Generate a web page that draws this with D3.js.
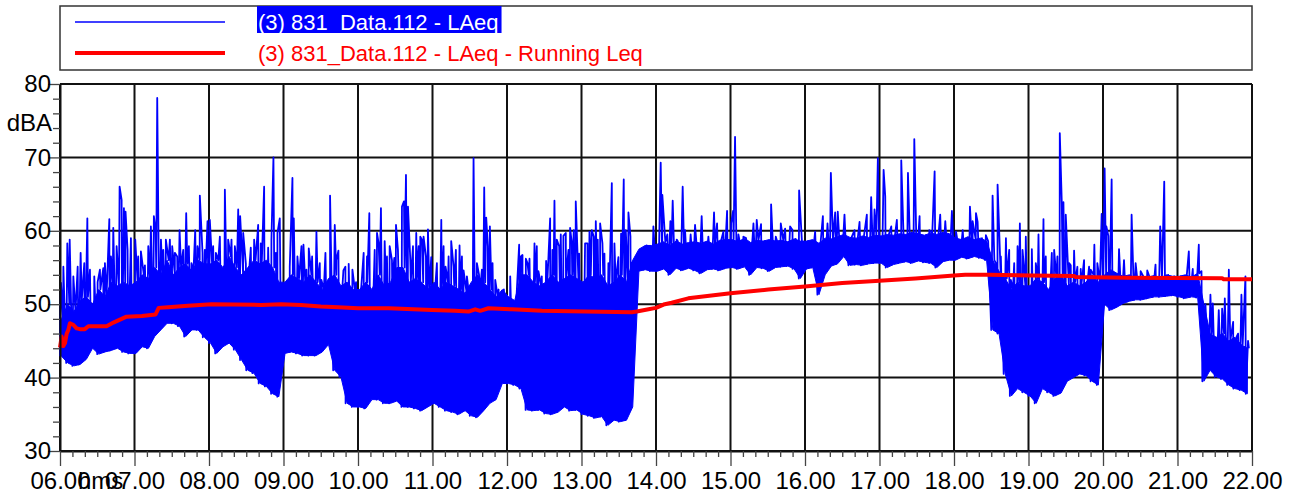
<!DOCTYPE html>
<html><head><meta charset="utf-8">
<script src="https://cdn.jsdelivr.net/npm/d3@7"></script>
<style>
html,body{margin:0;padding:0;background:#fff;}
svg{display:block;font-family:"Liberation Sans",Arial,Helvetica,sans-serif;}
</style></head><body>
<svg id="chart" width="1301" height="494"></svg>
<script>
// ---- data ----
const hourLabels = ["06.00","07.00","08.00","09.00","10.00","11.00","12.00","13.00","14.00","15.00","16.00","17.00","18.00","19.00","20.00","21.00","22.00"];
const yTickValues = [30,40,50,60,70,80];
const seriesNames = ["(3) 831_Data.112 - LAeq","(3) 831_Data.112 - LAeq - Running Leq"];
const xUnitLabel = "hms";
const yUnitLabel = "dBA";

// LAeq: lower and upper edge of the dense band, one pair per 5-minute bin (06:00 ... 21:55)
const bandLow = [
 42.9,42.0,41.6,41.8,42.5,44.0,43.2,43.5,43.7,44.0,43.5,43.3,
 43.3,44.2,44.0,45.6,46.5,47.4,47.4,47.0,45.6,46.5,46.5,45.5,
 44.7,43.3,44.2,44.7,43.8,42.4,41.0,40.6,39.2,38.8,37.8,37.4,
 43.3,43.5,43.3,43.0,43.0,43.0,43.5,44.5,41.0,40.1,36.5,36.0,
 36.0,35.8,37.0,37.0,36.5,36.5,36.8,36.0,36.0,35.8,35.5,36.0,
 36.5,36.0,35.5,35.3,35.0,35.5,34.8,34.6,35.5,36.5,37.0,39.2,
 39.2,39.0,38.5,35.6,35.5,35.6,35.1,35.0,35.3,36.0,35.5,35.6,
 35.0,34.8,34.5,34.7,33.5,34.2,34.0,34.2,36.0,54.5,54.7,54.5,
 54.5,54.8,54.0,54.9,54.6,54.9,54.6,54.2,54.7,54.8,54.6,54.9,
 55.0,54.8,55.1,54.0,55.0,54.9,54.5,55.0,55.1,55.2,54.8,53.5,
 54.8,55.0,51.3,54.0,55.2,55.5,56.5,55.3,55.4,55.3,55.5,55.6,
 55.6,55.0,55.4,55.6,55.8,55.6,55.9,55.7,55.6,55.0,55.8,56.0,
 56.0,56.4,56.2,56.5,56.3,56.0,46.5,46.0,40.5,37.5,38.5,38.0,
 37.5,36.5,38.5,38.0,37.5,37.9,39.5,40.0,40.5,40.3,39.5,39.0,
 50.0,49.2,49.6,50.1,50.4,50.6,50.6,50.8,51.0,51.0,51.1,51.2,
 51.0,50.8,51.0,50.9,39.5,41.0,40.1,39.8,39.0,38.5,38.3,37.8
];
const bandHigh = [
 48.0,50.0,49.0,50.5,51.0,50.0,52.0,51.0,53.0,52.5,53.0,52.5,
 53.0,54.0,53.5,55.0,54.0,56.0,54.0,55.0,55.5,54.5,56.0,55.5,
 55.5,56.0,55.0,56.5,55.0,54.0,55.0,56.0,55.5,56.0,55.0,53.0,
 53.0,54.0,53.5,53.0,54.0,53.0,52.0,53.5,54.0,52.5,53.0,52.0,
 52.0,53.0,52.0,54.0,52.5,53.0,55.0,55.0,53.0,53.5,53.0,52.0,
 53.0,52.0,53.0,52.5,52.0,51.5,53.0,54.0,53.0,52.0,51.0,52.0,
 51.0,50.5,54.0,54.0,53.0,52.5,53.0,54.0,53.0,53.5,54.0,53.5,
 53.0,54.0,53.5,54.0,52.5,53.0,54.0,53.0,56.0,57.5,58.0,58.0,
 58.2,58.5,58.0,58.6,58.2,58.4,58.5,58.3,58.6,58.2,58.7,58.8,
 58.8,58.5,59.0,58.4,58.7,58.6,58.8,58.6,58.7,58.5,58.9,58.6,
 58.6,58.8,58.3,59.0,58.9,59.2,59.5,59.1,59.0,59.3,59.1,59.4,
 59.3,59.5,59.4,59.6,59.5,59.8,59.6,59.4,59.7,59.5,59.8,59.6,
 59.0,58.8,59.2,58.8,59.0,58.6,56.0,54.5,53.5,52.0,53.0,52.5,
 52.5,53.5,53.0,52.0,53.5,54.0,52.5,53.0,52.5,53.0,54.0,53.0,
 54.0,54.7,54.2,53.8,54.0,53.6,53.8,53.7,53.9,53.6,54.0,53.8,
 53.8,54.0,53.7,54.2,50.0,46.0,45.5,46.0,45.0,45.5,44.5,44.0
];
// LAeq peaks: [time in hours, dBA]
const peaks = [
 [6.013,52.9],[6.098,58.3],[6.130,58.8],[6.237,55.1],[6.277,57.0],[6.367,61.7],[6.505,53.0],[6.581,54.9],
 [6.662,61.6],[6.715,60.4],[6.800,66.0],[6.827,64.2],[6.858,63.1],[6.880,62.6],[6.952,59.0],
 [7.010,58.8],[7.086,57.2],[7.140,55.3],[7.220,60.6],[7.260,62.0],[7.305,78.1],[7.355,58.8],[7.421,58.8],
 [7.475,58.8],[7.542,57.0],[7.605,60.1],[7.694,62.4],[7.765,55.6],[7.815,60.1],[7.877,64.8],[7.913,57.0],[7.980,61.3],
 [8.011,61.5],[8.092,57.0],[8.213,65.6],[8.257,58.8],[8.392,62.9],[8.418,62.0],[8.495,55.5],[8.561,57.7],
 [8.660,60.8],[8.740,66.0],[8.794,57.7],[8.865,70.0],[8.897,57.0],[8.950,61.7],
 [9.030,52.5],[9.120,67.2],[9.138,61.7],[9.268,58.1],[9.339,57.6],[9.442,59.9],[9.509,53.3],[9.625,64.8],
 [9.688,60.8],[9.737,57.3],[9.804,54.6],[9.875,55.5],[9.974,53.0],
 [10.076,57.0],[10.152,62.4],[10.255,59.7],[10.308,63.1],[10.358,58.6],[10.425,57.9],[10.510,60.8],[10.590,63.3],
 [10.617,64.0],[10.644,67.6],[10.671,63.3],[10.738,57.9],[10.782,59.7],[10.836,59.2],[10.880,59.2],[10.939,60.2],[10.983,56.4],
 [11.118,61.5],[11.175,55.1],[11.251,58.6],[11.283,55.1],[11.363,58.0],[11.417,54.6],[11.493,51.1],[11.551,69.9],
 [11.627,50.7],[11.694,65.9],[11.721,61.8],[11.770,60.6],[11.842,53.3],[11.887,52.0],
 [12.163,58.1],[12.208,56.7],[12.253,56.2],[12.302,56.2],[12.369,58.3],[12.422,54.5],[12.525,55.9],[12.579,61.7],
 [12.637,64.1],[12.668,58.8],[12.722,59.5],[12.789,59.7],[12.847,60.4],[12.896,60.1],[12.923,64.0],[12.968,56.9],
 [13.048,58.3],[13.107,59.9],[13.138,60.1],[13.192,61.3],[13.250,61.0],[13.308,56.9],[13.407,66.5],[13.495,56.4],
 [13.567,67.0],[13.630,62.5],[13.675,55.6],[13.965,60.6],
 [14.063,69.3],[14.085,64.9],[14.152,59.5],[14.193,61.3],[14.224,64.1],[14.278,58.8],[14.358,66.0],[14.390,60.1],
 [14.465,59.5],[14.524,60.8],[14.613,62.0],[14.703,59.2],[14.779,62.5],[14.820,61.0],[14.905,59.9],[14.954,62.7],
 [15.008,61.0],[15.035,62.7],[15.061,72.8],[15.106,59.5],[15.173,59.2],[15.308,61.0],[15.352,61.5],[15.410,60.9],
 [15.545,63.6],[15.608,59.2],[15.675,61.0],[15.733,60.3],[15.800,60.6],[15.832,60.1],[15.921,65.5],
 [16.136,59.9],[16.240,62.0],[16.302,61.0],[16.347,67.9],[16.405,62.5],[16.440,62.6],[16.530,62.2],[16.665,60.1],
 [16.732,61.2],[16.830,62.2],[16.888,64.6],[16.933,62.9],[16.978,69.9],
 [17.055,68.3],[17.077,64.7],[17.158,60.6],[17.233,61.5],[17.292,69.6],[17.382,67.9],[17.467,72.5],[17.538,62.0],
 [17.668,60.1],[17.740,68.1],[17.815,62.2],[17.883,61.3],[17.972,62.7],
 [18.027,59.9],[18.117,60.1],[18.214,63.3],[18.250,61.3],[18.295,62.4],[18.317,61.2],[18.428,59.4],[18.518,64.8],
 [18.585,66.3],[18.697,59.0],[18.763,53.3],[18.808,55.6],[18.884,61.0],[18.920,57.4],[18.964,59.2],
 [19.045,57.5],[19.134,59.5],[19.201,61.6],[19.313,57.0],[19.420,73.3],[19.447,63.8],[19.469,63.9],[19.500,62.2],
 [19.567,55.3],[19.612,57.3],[19.701,54.8],[19.813,55.1],[19.884,58.1],[19.982,62.3],
 [20.022,68.5],[20.045,60.6],[20.072,59.3],[20.116,67.0],[20.215,57.5],[20.282,56.0],[20.384,62.2],[20.438,55.6],
 [20.505,54.5],[20.594,54.6],[20.705,55.4],[20.768,60.6],[20.822,66.7],[20.929,53.7],
 [21.152,57.2],[21.205,54.8],[21.286,58.1],[21.322,54.5],[21.442,51.3],[21.474,50.1],[21.554,49.2],[21.599,49.4],
 [21.635,50.8],[21.689,54.7],[21.747,47.6],[21.813,46.0],[21.858,51.3],[21.912,53.8],[21.947,45.0]
];
// LAeq smaller peaks in the busy stretches: [time in hours, dBA]
const minorPeaks = [
 [6.045,55.1],[6.179,53.8],[6.326,55.6],[6.402,54.7],[6.460,53.8],[6.536,54.7],[6.603,55.6],[6.684,56.5],[6.760,57.9],[6.907,57.4],
 [7.050,56.5],[7.185,57.9],[7.283,60.1],[7.386,57.4],[7.506,57.9],[7.573,56.5],[7.654,57.4],[7.730,57.9],[7.846,57.9],[7.944,57.4],
 [8.056,57.9],[8.146,59.2],[8.302,58.8],[8.347,57.9],[8.459,59.7],[8.606,58.8],[8.695,58.3],[8.838,58.8],[8.919,59.7],
 [9.084,55.1],[9.187,56.5],[9.241,57.9],[9.308,54.7],[9.384,56.5],[9.487,55.6],[9.563,57.0],[9.710,56.0],[9.831,55.1],[9.925,54.7],
 [10.121,56.5],[10.224,57.4],[10.277,58.3],[10.389,56.5],[10.456,56.0],[10.487,56.3],[10.536,57.4],[10.702,56.0],[10.814,57.9],[10.858,58.8],[10.912,56.5],
 [11.059,55.6],[11.149,57.9],[11.216,56.5],[11.314,57.4],[11.395,56.5],[11.462,53.8],[11.596,55.6],[11.663,54.7],[11.743,57.9],[11.806,55.6],
 [12.043,53.8],[12.186,56.5],[12.275,55.6],[12.400,57.9],[12.467,53.8],[12.610,57.4],[12.700,57.9],[12.757,59.3],[12.825,57.4],[12.870,58.3],
 [13.080,58.3],[13.165,59.2],[13.218,58.8],[13.281,58.3],[13.361,55.6],[13.442,58.3],[13.531,59.6],[13.594,60.1],[13.657,59.2],
 [18.563,55.6],[18.629,56.5],[18.741,57.4],[18.853,57.9],
 [19.098,55.6],[19.232,56.5],[19.344,57.4],[19.388,56.5],[19.545,55.6],[19.656,55.1],[19.746,56.0],[19.835,54.7],[19.924,55.6]
];
// Running Leq: [time in hours, dBA]
const runningLeq = [
 [6.000,44.1],[6.022,45.6],[6.045,44.3],[6.067,44.7],[6.090,46.0],[6.112,46.5],[6.133,47.4],[6.178,47.2],
 [6.223,46.7],[6.267,46.6],[6.333,46.6],[6.380,47.0],[6.625,47.0],[6.717,47.5],[6.827,48.0],[6.893,48.3],
 [7.100,48.4],[7.283,48.6],[7.325,49.5],[7.450,49.6],[7.717,49.8],[8.033,50.0],[8.700,49.9],[8.967,50.0],
 [9.233,49.9],[9.500,49.7],[9.733,49.6],[10.000,49.45],[10.412,49.45],[10.992,49.2],[11.300,49.1],[11.483,49.0],
 [11.573,49.3],[11.640,49.1],[11.750,49.45],[12.067,49.3],[12.467,49.1],[13.050,49.0],[13.675,48.9],[13.742,49.0],
 [13.900,49.3],[14.000,49.5],[14.117,50.0],[14.210,50.2],[14.433,50.8],[15.000,51.5],[15.508,52.0],[16.000,52.4],
 [16.500,52.9],[17.000,53.2],[17.483,53.5],[18.000,53.9],[18.150,54.0],[18.475,54.0],[19.050,53.9],[19.612,53.85],
 [19.633,53.7],[20.327,53.6],[21.598,53.55],[21.620,53.4],[22.000,53.4]
];

// ---- drawing ----
const svg = d3.select("#chart");
const x = d3.scaleLinear().domain([6,22]).range([60,1252]);
const y = d3.scaleLinear().domain([30,80]).range([451,84]);
const hourVals = d3.range(6,23);
const FONT = 22, TICKFONT = 24;

// legend
const lg = svg.append("g");
lg.append("rect").attr("x",60).attr("y",6).attr("width",1192).attr("height",64)
  .attr("fill","#fff").attr("stroke","#333").attr("stroke-width",1.5);
lg.append("line").attr("x1",75).attr("x2",225).attr("y1",22).attr("y2",22).attr("stroke","#0000ff").attr("stroke-width",1.5);
lg.append("line").attr("x1",75).attr("x2",225).attr("y1",53).attr("y2",53).attr("stroke","#ff0000").attr("stroke-width",4);
const t1 = lg.append("text").attr("x",258).attr("y",30).attr("font-size",FONT).attr("fill","#fff").text(seriesNames[0]);
const bb = t1.node().getBBox();
lg.insert("rect","text").attr("x",bb.x-1).attr("y",6).attr("width",bb.width+4).attr("height",27).attr("fill","#0000ff");
lg.append("text").attr("x",258).attr("y",61).attr("font-size",FONT).attr("fill","#ff0000").text(seriesNames[1]);

// grid
const grid = svg.append("g").attr("stroke","#111").attr("stroke-width",2);
grid.selectAll("line.v").data(hourVals).join("line").attr("class","v")
  .attr("x1",d=>x(d)).attr("x2",d=>x(d)).attr("y1",y(80)).attr("y2",y(30));
grid.selectAll("line.h").data(yTickValues).join("line").attr("class","h")
  .attr("x1",x(6)).attr("x2",x(22)).attr("y1",d=>y(d)).attr("y2",d=>y(d));

// blue LAeq series: dense band (area) + zigzag trace + peaks
const band = bandLow.map((lo,i)=>({t: 6 + i*5/60 + 1.25/60, lo, hi: bandHigh[i]}));
const area = d3.area().x(d=>x(d.t)).y0(d=>y(d.lo)).y1(d=>y(d.hi));
svg.append("path").datum(band).attr("d",area).attr("fill","#0000ff").attr("stroke","#0000ff").attr("stroke-width",1);

const pts = [];
bandLow.forEach((lo,i)=>{
  const t = 6 + i*5/60;
  pts.push([t, lo]);
  pts.push([t + 2.5/60, bandHigh[i]]);
});
peaks.forEach(p=>pts.push(p));
minorPeaks.forEach(p=>pts.push(p));
pts.sort((a,b)=>a[0]-b[0]);
const line = d3.line().x(d=>x(d[0])).y(d=>y(d[1]));
svg.append("path").datum(pts).attr("d",line).attr("fill","none")
  .attr("stroke","#0000ff").attr("stroke-width",1.8).attr("stroke-linejoin","round");

// red running Leq
svg.append("path").datum(runningLeq).attr("d",line).attr("fill","none")
  .attr("stroke","#ff0000").attr("stroke-width",4).attr("stroke-linejoin","round");

// y axis
const yMinor = d3.range(30,81,2);
const yAxis = d3.axisLeft(y).tickValues(yMinor).tickSizeOuter(0)
  .tickFormat(d=> d%10===0 ? d : "");
const yg = svg.append("g").attr("transform",`translate(${x(6)},0)`).call(yAxis);
yg.select(".domain").attr("stroke","#111").attr("stroke-width",2);
yg.selectAll(".tick line").attr("stroke","#444").attr("stroke-width",1.3)
  .attr("x2",d=> d%10===0 ? -12 : -7);
yg.selectAll(".tick text").attr("font-size",TICKFONT).attr("fill","#000").attr("x",-9)
  .attr("font-family","'Liberation Sans',Arial,sans-serif");
svg.append("text").attr("x",52).attr("y",131).attr("text-anchor","end")
  .attr("font-size",TICKFONT).attr("fill","#000").text(yUnitLabel);

// x axis
const xMinor = d3.range(0,97).map(k=>6 + k/6);
const xAxis = d3.axisBottom(x).tickValues(xMinor).tickSizeOuter(0)
  .tickFormat(d=>{ const k=Math.round((d-6)*6); return k%6===0 ? hourLabels[k/6] : ""; });
const xg = svg.append("g").attr("transform",`translate(0,${y(30)})`).call(xAxis);
xg.select(".domain").attr("stroke","#111").attr("stroke-width",2);
xg.selectAll(".tick line").attr("stroke","#444").attr("stroke-width",1.3)
  .attr("y2",d=> Math.round((d-6)*6)%6===0 ? 15 : 6);
xg.selectAll(".tick text").attr("font-size",TICKFONT).attr("fill","#000").attr("y",21)
  .attr("font-family","'Liberation Sans',Arial,sans-serif");
svg.append("text").attr("x",78).attr("y",y(30)+38).attr("font-size",TICKFONT).attr("fill","#000").text(xUnitLabel);
</script>
</body></html>
